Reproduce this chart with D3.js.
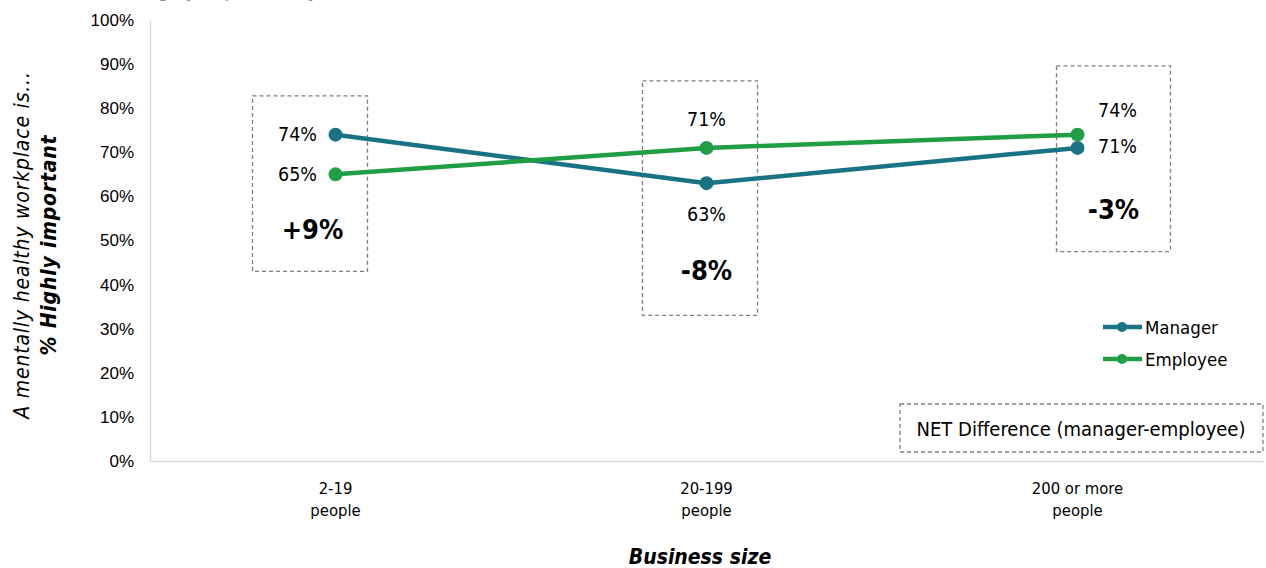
<!DOCTYPE html>
<html>
<head>
<meta charset="utf-8">
<script src="https://cdn.jsdelivr.net/npm/d3@7/dist/d3.min.js"></script>
<style>
  html, body { margin: 0; padding: 0; background: #fff; }
  svg { display: block; }
</style>
</head>
<body>
<svg id="chart" width="1266" height="568"></svg>
<script>
// Business size categories and % rating a mentally healthy workplace "highly important"
const categories = ["2-19 people", "20-199 people", "200 or more people"];
const categoryLines = [["2-19", "people"], ["20-199", "people"], ["200 or more", "people"]];
const managerValues = [74, 63, 71];
const employeeValues = [65, 71, 74];
const netDifference = [9, -8, -3];
const yTicks = [0, 10, 20, 30, 40, 50, 60, 70, 80, 90, 100];

const seriesNames = ["Manager", "Employee"];
const colors = { Manager: "#1a7385", Employee: "#1f9e43" };
const labelFont = "'DejaVu Sans Condensed', 'DejaVu Sans', sans-serif";
const tickFont = "'Liberation Sans Narrow', 'Liberation Sans', Arial, sans-serif";

const svg = d3.select("#chart");
const plot = { left: 150, right: 1263, top: 20, bottom: 461 };

const x = d3.scaleBand().domain(categories).range([plot.left, plot.right]);
const y = d3.scaleLinear().domain([0, 100]).range([plot.bottom, plot.top]);
const cx = c => x(c) + x.bandwidth() / 2;

// Heading running off the top edge
svg.append("text")
  .attr("x", 118).attr("y", -3)
  .attr("font-family", labelFont).attr("font-style", "italic")
  .attr("font-size", 20).attr("fill", "#8c8c8c")
  .text("% Highly important by business size, and the difference");

// Y axis
const yAxis = svg.append("g")
  .attr("transform", `translate(${plot.left},0)`)
  .call(d3.axisLeft(y).tickValues(yTicks).tickSize(0).tickPadding(16).tickFormat(d => d + "%"));
yAxis.select(".domain").attr("stroke", "#d9d9d9").attr("stroke-width", 1.3);
yAxis.selectAll("text").attr("font-family", tickFont).attr("font-size", 17).attr("fill", "#000");

// X axis
const xAxis = svg.append("g")
  .attr("transform", `translate(0,${plot.bottom})`)
  .call(d3.axisBottom(x).tickSize(0).tickFormat(""));
xAxis.select(".domain").attr("stroke", "#d9d9d9").attr("stroke-width", 1.3);

categories.forEach((c, i) => {
  const t = svg.append("text")
    .attr("x", cx(c)).attr("y", 494)
    .attr("text-anchor", "middle")
    .attr("font-family", labelFont).attr("font-size", 16.5).attr("fill", "#000");
  categoryLines[i].forEach((line, j) => {
    t.append("tspan").attr("x", cx(c)).attr("dy", j === 0 ? 0 : 22).text(line);
  });
});

// Axis titles
svg.append("text")
  .attr("x", 700).attr("y", 564).attr("text-anchor", "middle")
  .attr("font-family", labelFont).attr("font-size", 21)
  .attr("font-style", "italic").attr("font-weight", "bold")
  .text("Business size");

const yTitle = svg.append("text")
  .attr("transform", "translate(29,245) rotate(-90)")
  .attr("text-anchor", "middle")
  .attr("font-family", labelFont).attr("font-size", 21).attr("font-style", "italic");
yTitle.append("tspan").attr("x", 0).attr("dy", 0).attr("letter-spacing", 0.8)
  .text("A mentally healthy workplace is...");
yTitle.append("tspan").attr("x", 0).attr("dy", 27).attr("font-weight", "bold").attr("letter-spacing", 0.8)
  .text("% Highly important");

// Dashed boxes around each business-size group
const boxes = [
  { c: categories[0], dx0: -83, dx1: 32, top: 82.8, bottom: 43 },
  { c: categories[1], dx0: -64, dx1: 51, top: 86.2, bottom: 33 },
  { c: categories[2], dx0: -21, dx1: 93, top: 89.6, bottom: 47.5 }
];
boxes.forEach(b => {
  svg.append("rect")
    .attr("x", cx(b.c) + b.dx0).attr("y", y(b.top))
    .attr("width", b.dx1 - b.dx0).attr("height", y(b.bottom) - y(b.top))
    .attr("fill", "none").attr("stroke", "#7f7f7f").attr("stroke-width", 1.3)
    .attr("stroke-dasharray", "4,3");
});

// Lines and markers
const line = d3.line().x((d, i) => cx(categories[i])).y(d => y(d));
const series = [
  { name: "Manager", values: managerValues },
  { name: "Employee", values: employeeValues }
];
series.forEach(s => {
  svg.append("path").datum(s.values)
    .attr("d", line).attr("fill", "none")
    .attr("stroke", colors[s.name]).attr("stroke-width", 4.5)
    .attr("stroke-linejoin", "round");
  svg.selectAll(null).data(s.values).enter().append("circle")
    .attr("cx", (d, i) => cx(categories[i])).attr("cy", d => y(d))
    .attr("r", 7).attr("fill", colors[s.name]);
});

// Value labels
const valueLabel = (xPos, v, dy) => {
  svg.append("text")
    .attr("x", xPos).attr("y", y(v) + dy)
    .attr("text-anchor", "middle").attr("dominant-baseline", "central")
    .attr("font-family", labelFont).attr("font-size", 19.5).attr("fill", "#000")
    .text(v + "%");
};
valueLabel(cx(categories[0]) - 38, managerValues[0], 0);
valueLabel(cx(categories[0]) - 38, employeeValues[0], 0);
valueLabel(cx(categories[1]), employeeValues[1], -28);
valueLabel(cx(categories[1]), managerValues[1], 31);
valueLabel(cx(categories[2]) + 40, employeeValues[2], -24);
valueLabel(cx(categories[2]) + 40, managerValues[2], -1);

// NET difference labels
const netPos = [
  { dx: -23, v: 52.5 },
  { dx: 0, v: 43.2 },
  { dx: 36, v: 57 }
];
netDifference.forEach((d, i) => {
  svg.append("text")
    .attr("x", cx(categories[i]) + netPos[i].dx).attr("y", y(netPos[i].v))
    .attr("text-anchor", "middle").attr("dominant-baseline", "central")
    .attr("font-family", labelFont).attr("font-size", 27).attr("font-weight", "bold")
    .text((d > 0 ? "+" : "") + d + "%");
});

// Legend
const legend = svg.append("g");
seriesNames.forEach((name, i) => {
  const ly = 327 + i * 32;
  legend.append("line")
    .attr("x1", 1103).attr("x2", 1142).attr("y1", ly).attr("y2", ly)
    .attr("stroke", colors[name]).attr("stroke-width", 4.5);
  legend.append("circle").attr("cx", 1122).attr("cy", ly).attr("r", 5).attr("fill", colors[name]);
  legend.append("text")
    .attr("x", 1145).attr("y", ly).attr("dominant-baseline", "central")
    .attr("font-family", labelFont).attr("font-size", 18.5).text(name);
});

// NET difference note
svg.append("rect")
  .attr("x", 900).attr("y", 404).attr("width", 363).attr("height", 48)
  .attr("fill", "none").attr("stroke", "#7f7f7f").attr("stroke-width", 1.3)
  .attr("stroke-dasharray", "4,3");
svg.append("text")
  .attr("x", 1081).attr("y", 429).attr("text-anchor", "middle").attr("dominant-baseline", "central")
  .attr("font-family", labelFont).attr("font-size", 20)
  .text("NET Difference (manager-employee)");
</script>
</body>
</html>
